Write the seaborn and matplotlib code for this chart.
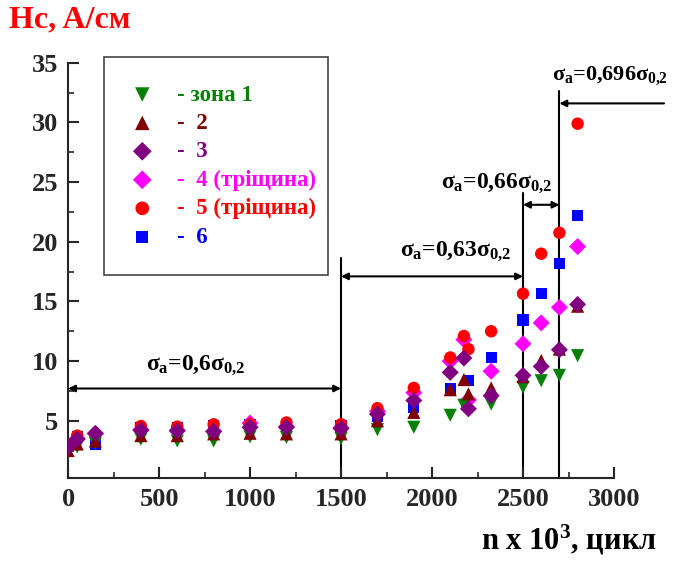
import numpy as np
import pandas as pd
import matplotlib
matplotlib.use("Agg")
import matplotlib.pyplot as plt
from matplotlib.ticker import MultipleLocator
from matplotlib.patches import Rectangle
import seaborn as sns

# cycles, n x 10^3
cycles = [0, 50, 150, 400, 600, 800, 1000, 1200, 1500, 1700, 1900,
          2100, 2175, 2200, 2325, 2500, 2600, 2700, 2800]

# coercive force Hc, A/cm, per zone
zone1 = [2.3, 2.8, 3.1, 3.45, 3.3, 3.3, 3.65, 3.6, 3.5, 4.25, 4.45,
         5.45, 6.3, np.nan, 6.4, 7.8, 8.35, 8.8, 10.45]
zone2 = [2.5, 3.05, 3.3, 3.75, 3.75, 3.9, 3.95, 3.9, 3.9, 5.0, 5.7,
         7.6, 8.45, 7.25, 7.75, 8.7, 10.05, 11.0, 14.6]
zone3 = [2.8, 3.45, 3.95, 4.2, 4.15, 4.1, 4.45, 4.45, 4.35, 5.55, 6.7,
         9.05, 10.25, 6.0, 7.1, 8.8, 9.55, 10.95, 14.75]
zone4 = [2.9, 3.5, 3.9, 4.25, 4.2, 4.1, 4.8, 4.5, 4.4, 5.8, 7.35,
         10.0, 11.8, 6.75, 9.15, 11.45, 13.2, 14.5, 19.6]
zone5 = [3.0, 3.75, 3.9, 4.55, 4.5, 4.7, 4.7, 4.85, 4.7, 6.05, 7.75,
         10.3, 12.1, 11.0, 12.5, 15.65, 19.0, 20.75, 29.9]
zone6 = [3.1, 3.7, 3.0, 4.45, 4.4, 4.6, 4.7, 4.6, 4.55, 5.4, 6.1,
         7.65, np.nan, 8.4, 10.3, 13.45, 15.65, 18.15, 22.2]

labels = ["- зона 1", "-  2", "-  3", "-  4 (тріщина)", "-  5 (тріщина)", "-  6"]

sns.set_style("ticks")
plt.rcParams['font.family'] = ['Liberation Serif', 'DejaVu Serif']
plt.rcParams['font.weight'] = 'bold'
plt.rcParams['mathtext.fontset'] = 'custom'
plt.rcParams['mathtext.rm'] = 'Liberation Serif:bold'
plt.rcParams['mathtext.it'] = 'Liberation Serif:bold'
plt.rcParams['mathtext.bf'] = 'Liberation Serif:bold'

fig = plt.figure(figsize=(6.74, 5.61), dpi=100)
ax = fig.add_axes([0.101, 0.148, 0.81, 0.74])

series = [
    (zone1, '#078007', 'v', 4),
    (zone2, '#800000', '^', 5),
    (zone3, '#800080', 'D', 6),
    (zone4, '#ff00ff', 'D', 2),
    (zone5, '#ff0000', 'o', 3),
    (zone6, '#0000ff', 's', 1),
]
sizes = {'v': 90, '^': 90, 'D': 75, 'o': 80, 's': 65}

for (vals, col, mk, z), lab in zip(series, labels):
    df = pd.DataFrame({'n': cycles, 'Hc': vals}).dropna()
    sns.scatterplot(data=df, x='n', y='Hc', color=col, marker=mk, s=sizes[mk],
                    edgecolor='none', linewidth=0, zorder=z, ax=ax, label=lab)

ax.set_xlim(0, 3000)
ax.set_ylim(0.2, 35)
ax.set_xticks(range(0, 3001, 500))
ax.set_yticks(range(5, 36, 5))
ax.xaxis.set_minor_locator(MultipleLocator(250))
ax.yaxis.set_minor_locator(MultipleLocator(2.5))
ax.tick_params(which='major', direction='in', length=8, width=1.5,
               labelsize=19, pad=7)
ax.tick_params(which='minor', direction='in', length=4, width=1.2)
for t in ax.get_xticklabels() + ax.get_yticklabels():
    t.set_fontweight('bold')
sns.despine(ax=ax)
for sp in ('left', 'bottom'):
    ax.spines[sp].set_linewidth(1.5)
ax.set_xlabel('')
ax.set_ylabel('')

fig.text(0.013, 0.99, 'Hc, A/см', color='red', fontsize=23,
         fontweight='bold', va='top', ha='left')
fig.text(0.975, 0.008, 'n x 10$^3$, цикл', color='black', fontsize=22,
         fontweight='bold', va='bottom', ha='right')

# stress level boundaries
ylo = 0.2
ax.plot([1500, 1500], [ylo, 18.6], color='k', lw=1.5, zorder=0)
ax.plot([2500, 2500], [ylo, 24.1], color='k', lw=1.5, zorder=0)
ax.plot([2700, 2700], [ylo, 32.6], color='k', lw=1.5, zorder=0)

arr = dict(arrowstyle='<|-|>', color='k', lw=1.5, shrinkA=0, shrinkB=0,
           mutation_scale=10)
ax.annotate('', xy=(0, 7.7), xytext=(1500, 7.7), arrowprops=arr,
            annotation_clip=False)
ax.annotate('', xy=(1500, 17.1), xytext=(2500, 17.1), arrowprops=arr)
ax.annotate('', xy=(2500, 23.1), xytext=(2700, 23.1), arrowprops=arr)
ax.annotate('', xy=(2700, 31.6), xytext=(3275, 31.6),
            arrowprops=dict(arrowstyle='-|>', color='k', lw=1.5, shrinkA=0,
                            shrinkB=0, mutation_scale=10),
            annotation_clip=False)

tkw = dict(fontsize=17, ha='center', va='center', color='k')
ax.text(700, 9.6, r'$σ_a$=0,6$σ_{0{,}2}$', **tkw)
ax.text(2130, 19.2, r'$σ_a$=0,63$σ_{0{,}2}$', **tkw)
ax.text(2355, 24.9, r'$σ_a$=0,66$σ_{0{,}2}$', **tkw)
ax.text(2975, 33.9, r'$σ_a$=0,696$σ_{0{,}2}$', clip_on=False,
        **dict(tkw, fontsize=16))

# legend frame drawn separately, legend itself frameless
fig.patches.append(Rectangle((0.1543, 0.5098), 0.3323, 0.3886,
                             transform=fig.transFigure, fill=False,
                             edgecolor='#444444', lw=1.2, zorder=10))
h, l = ax.get_legend_handles_labels()
leg = ax.legend(h, l, loc='upper left', bbox_to_anchor=(0.1907, 0.8494),
                bbox_transform=fig.transFigure, borderaxespad=0,
                frameon=False, borderpad=0,
                labelspacing=0.32, handletextpad=0.9, handlelength=1.2,
                markerscale=1.1,
                labelcolor=[s[1] for s in series],
                prop={'weight': 'bold', 'size': 16.5})

plt.savefig('out.png', dpi=100)
